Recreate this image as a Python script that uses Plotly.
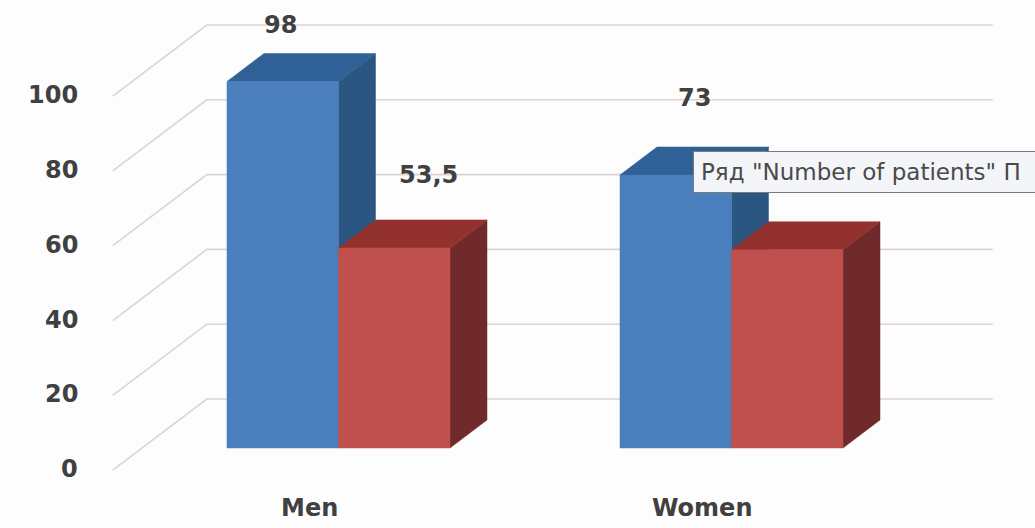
import plotly.graph_objects as go

# ---------------- data ----------------
categories = ["Men", "Women"]
series_names = ["Series 1", "Number of patients"]
series_a = [98, 73]        # blue bars
series_b = [53.5, 53]      # red bars
value_labels_a = ["98", "73"]
value_labels_b = ["53,5", None]   # Women label hidden under the tooltip in the reference
y_ticks = [0, 20, 40, 60, 80, 100]
y_tick_labels = ["0", "20", "40", "60", "80", "100"]
tooltip_text = 'Ряд "Number of patients" П'

# ---------------- style / geometry ----------------
W, H = 1035, 528
X_RANGE = [-0.8613, 1.7723]
Y_RANGE = [-21.39, 119.79]
PX_U = W / (X_RANGE[1] - X_RANGE[0])
PX_V = H / (Y_RANGE[1] - Y_RANGE[0])
DU = 37 / PX_U          # bar depth offset (x)
DV = 28 / PX_V          # bar depth offset (y)
BACK = 1.75             # back wall depth (in bar depths)
FRONT = -0.79           # floor front edge depth
BAR_W = 111.5 / PX_U

face_colors = [
    {"front": "#4A7EBC", "top": "#2F6096", "side": "#2B5682"},
    {"front": "#BF504D", "top": "#93312F", "side": "#712A2B"},
]
grid_color = "#DED3D2"
text_color = "#404040"
label_nudges_a = [(-2, 56), (19, 77)]
label_nudges_b = [(34, 73), (34, 73)]

fig = go.Figure()


def poly(xs, ys, color):
    fig.add_trace(go.Scatter(
        x=xs + [xs[0]], y=ys + [ys[0]], mode="lines", fill="toself",
        fillcolor=color, line=dict(color=color, width=0.5),
        hoverinfo="skip", showlegend=False))


# gridlines: back wall + left wall diagonals
x_left = -0.5
x_right = len(categories) - 0.5
for t in y_ticks:
    fig.add_trace(go.Scatter(
        x=[x_left + FRONT * DU, x_left + BACK * DU, x_right + BACK * DU],
        y=[t + FRONT * DV, t + BACK * DV, t + BACK * DV],
        mode="lines", line=dict(color=grid_color, width=1.6),
        hoverinfo="skip", showlegend=False))

# bars
for i, cat in enumerate(categories):
    for s, vals in enumerate([series_a, series_b]):
        v = vals[i]
        x0 = i - BAR_W + s * BAR_W
        x1 = x0 + BAR_W
        c = face_colors[s]
        poly([x1, x1 + DU, x1 + DU, x1], [0, DV, v + DV, v], c["side"])
        poly([x0, x1, x1 + DU, x0 + DU], [v, v, v + DV, v + DV], c["top"])
        poly([x0, x1, x1, x0], [0, 0, v, v], c["front"])

annotations = []
font_main = dict(family="DejaVu Sans", size=24, color=text_color, weight="bold")
# value labels
for i in range(len(categories)):
    for s, (vals, labs, nud) in enumerate([(series_a, value_labels_a, label_nudges_a),
                                            (series_b, value_labels_b, label_nudges_b)]):
        if labs[i] is None:
            continue
        xc = i - BAR_W / 2 + s * BAR_W
        annotations.append(dict(
            x=xc, y=vals[i], xref="x", yref="y", text=labs[i], showarrow=False,
            xshift=nud[i][0], yshift=nud[i][1], font=font_main))

# y tick labels (front edge of left wall)
for t, lab in zip(y_ticks, y_tick_labels):
    annotations.append(dict(
        x=x_left + FRONT * DU, y=t + FRONT * DV, xref="x", yref="y", text=lab,
        showarrow=False, xanchor="right", xshift=-33, yshift=1, font=font_main))

# category labels
for i, cat in enumerate(categories):
    annotations.append(dict(
        x=i + FRONT * DU, y=FRONT * DV, xref="x", yref="y", text=cat,
        showarrow=False, yshift=-38, font=font_main))

# tooltip (cut by the right edge, as in the reference)
annotations.append(dict(
    x=693 / W, y=1 - 172 / H, xref="paper", yref="paper", xanchor="left",
    yanchor="middle", text=tooltip_text, showarrow=False, align="left",
    width=345, height=26,
    bgcolor="#F4F5F8", bordercolor="#7A7A7A", borderwidth=1, borderpad=7,
    font=dict(family="DejaVu Sans", size=23, color="#4A4A4A")))

fig.update_layout(
    width=W, height=H, margin=dict(l=0, r=0, t=0, b=0),
    paper_bgcolor="#FDFDFD", plot_bgcolor="#FDFDFD",
    xaxis=dict(range=X_RANGE, visible=False, fixedrange=True),
    yaxis=dict(range=Y_RANGE, visible=False, fixedrange=True),
    annotations=annotations, showlegend=False)

fig.write_html("out.html")
